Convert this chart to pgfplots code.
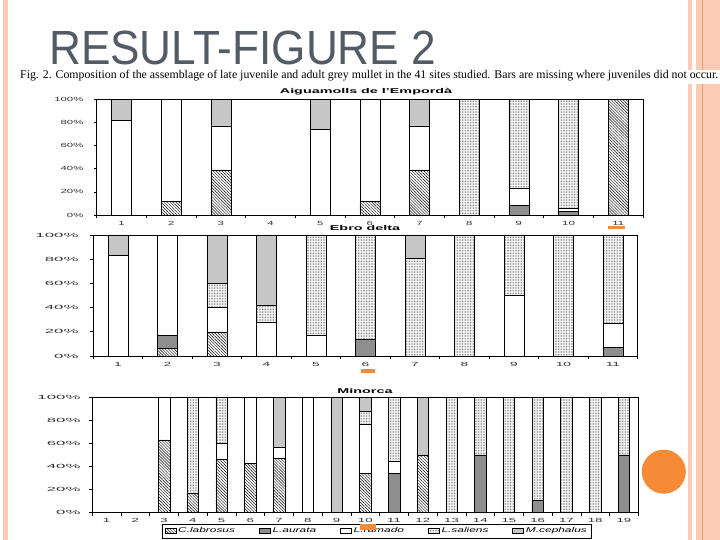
\documentclass[border=0pt]{standalone}
\usepackage{fontspec}
\setmainfont{Liberation Sans}
\newfontfamily\captionserif{Liberation Serif}
\usepackage{pgfplots}
\pgfplotsset{compat=1.18}
\usepackage{pgfplotstable}
\usetikzlibrary{patterns.meta}

\definecolor{pinkband}{HTML}{FBCBB6}
\definecolor{orangeline}{HTML}{F0A070}
\definecolor{orangedot}{HTML}{F68B37}
\definecolor{titlegray}{HTML}{535C66}
\definecolor{aurata}{HTML}{8E8E8E}
\definecolor{cephalus}{HTML}{C6C6C6}

\newcommand{\sx}[2][2.05]{\scalebox{#1}[1]{#2}}

% share of each species per site (%): C. labrosus, L. aurata, L. ramada, L. saliens, M. cephalus
\pgfplotstableread{
site lab aur ram sal cep
1   0  0 82   0 18
2  12  0 88   0  0
3  39  0 38   0 23
4   0  0  0   0  0
5   0  0 74   0 26
6  12  0 88   0  0
7  39  0 38   0 23
8   0  0  0 100  0
9   0  8 15  77  0
10  0  3  3  94  0
11 100 0  0   0  0
}\aiguamolls

\pgfplotstableread{
site lab aur ram sal cep
1   0  0 83   0 17
2   6 11 83   0  0
3  20  0 20  20 40
4   0  0 28  14 58
5   0  0 17  83  0
6   0 14  0  86  0
7   0  0  0  81 19
8   0  0  0 100  0
9   0  0 50  50  0
10  0  0  0 100  0
11  0  7 20  73  0
}\ebro

\pgfplotstableread{
site lab aur ram sal cep
1   0  0   0   0   0
2   0  0   0   0   0
3  63  0  37   0   0
4  17  0   0  83   0
5  46  0  14  40   0
6  43  0  57   0   0
7  47  0  10   0  43
8   0  0 100   0   0
9   0  0   0   0 100
10 34  0  43  11  12
11  0 34  11  55   0
12 50  0   0   0  50
13  0  0   0 100   0
14  0 50   0  50   0
15  0  0   0 100   0
16  0 11   0  89   0
17  0  0   0 100   0
18  0  0   0 100   0
19  0 50   0  50   0
}\minorca

\pgfplotsset{
  labro/.style={draw=black, line width=0.5pt, pattern={Lines[angle=-45,distance=2.1pt,line width=0.45pt]}, pattern color=black},
  aura/.style={draw=black, line width=0.5pt, fill=aurata},
  rama/.style={draw=black, line width=0.5pt, fill=white},
  sali/.style={draw=black, line width=0.5pt, pattern={Dots[distance=1.6pt,radius=0.45pt]}, pattern color=black!65},
  ceph/.style={draw=black, line width=0.5pt, fill=cephalus},
  % #1 #2: horizontal stretch of y and x tick labels, #3 #4: their shifts
  site chart/.style n args={4}{
    scale only axis, anchor=south west,
    ybar stacked, bar width=0.4,
    ymin=0, ymax=100, ytick={0,20,...,100}, minor ytick={0,20,...,100},
    /pgf/number format/assume math mode=true,
    yticklabel={\sx[#1]{\pgfmathprintnumber{\tick}\%}},
    xticklabel={\sx[#2]{\pgfmathprintnumber{\tick}}},
    tick align=outside, major tick length=0pt, minor tick length=3pt,
    xtick pos=lower, ytick pos=left,
    axis line style={line width=0.7pt},
    every tick/.style={black, line width=0.6pt},
    tick label style={font=\fontsize{6}{6}\selectfont, text=black!80},
    yticklabel style={xshift=#3},
    xticklabel style={yshift=#4},
  },
}

\begin{document}
\begin{tikzpicture}
\fill[white] (0,0) rectangle (720pt,540pt);
% slide decoration
\fill[pinkband] (3pt,0) rectangle (8pt,540pt);
\fill[pinkband] (687.7pt,0) rectangle (691.7pt,540pt);
\fill[pinkband] (695.7pt,0) rectangle (720pt,540pt);
\fill[orangeline] (701.7pt,0) rectangle (703.3pt,540pt);

\fill[white] (12pt,456pt) rectangle (720pt,470pt);
\node[anchor=base west, inner sep=0, text depth=0pt, text=titlegray, font=\fontsize{48}{48}\selectfont, xscale=0.92] at (49pt,475pt) {RESULT-FIGURE 2};
\node[anchor=base west, inner sep=0] at (20pt,461pt) {\resizebox{698pt}{!}{\captionserif\fontsize{11}{13}\selectfont Fig. 2. Composition of the assemblage of late juvenile and adult grey mullet in the 41 sites studied. Bars are missing where juveniles did not occur.}};

% Aiguamolls de l'Emporda
\begin{axis}[site chart={1.9}{1.9}{-9.7pt}{-3pt}, at={(96.7pt,325pt)}, width=546.3pt, height=115.7pt,
  xmin=0.5, xmax=11.5, xtick={1,...,11}, minor xtick={0.5,1.5,...,11.5}]
\addplot[labro] table[x=site, y=lab] {\aiguamolls};
\addplot[aura] table[x=site, y=aur] {\aiguamolls};
\addplot[rama] table[x=site, y=ram] {\aiguamolls};
\addplot[sali] table[x=site, y=sal] {\aiguamolls};
\addplot[ceph] table[x=site, y=cep] {\aiguamolls};
\end{axis}

% Ebro delta
\begin{axis}[site chart={2.8}{2.3}{-11.3pt}{-3pt}, at={(93.3pt,184pt)}, width=544.4pt, height=121pt,
  xmin=0.5, xmax=11.5, xtick={1,...,11}, minor xtick={0.5,1.5,...,11.5}]
\addplot[labro] table[x=site, y=lab] {\ebro};
\addplot[aura] table[x=site, y=aur] {\ebro};
\addplot[rama] table[x=site, y=ram] {\ebro};
\addplot[sali] table[x=site, y=sal] {\ebro};
\addplot[ceph] table[x=site, y=cep] {\ebro};
\end{axis}

% Minorca
\begin{axis}[site chart={2.8}{2.2}{-8.3pt}{-2pt}, at={(92.3pt,27.3pt)}, width=546pt, height=115.4pt,
  xmin=0.5, xmax=19.5, xtick={1,...,19}, minor xtick={0.5,1.5,...,19.5},
  legend columns=5,
  legend style={at={(0.521,-0.098)}, anchor=north, draw=black, line width=0.6pt,
    font=\fontsize{7}{8}\selectfont\itshape, inner xsep=2pt, inner ysep=1.5pt,
    /tikz/every even column/.append style={column sep=22pt}},
  legend image code/.code={\draw[#1] (0pt,-2.5pt) rectangle (11pt,2.5pt);}]
\addplot[labro] table[x=site, y=lab] {\minorca};
\addplot[aura] table[x=site, y=aur] {\minorca};
\addplot[rama] table[x=site, y=ram] {\minorca};
\addplot[sali] table[x=site, y=sal] {\minorca};
\addplot[ceph] table[x=site, y=cep] {\minorca};
\legend{\sx[1.7]{C.labrosus}, \sx[1.7]{L.aurata}, \sx[1.7]{L.ramado}, \sx[1.7]{L.saliens}, \sx[1.7]{M.cephalus}}
\end{axis}

% panel titles
\node[font=\bfseries\fontsize{7}{7}\selectfont] at (366pt,448.5pt) {\sx{Aiguamolls de l'Empordà}};
\node[font=\bfseries\fontsize{7}{7}\selectfont] at (365pt,311.5pt) {\sx{Ebro delta}};
\node[font=\bfseries\fontsize{7}{7}\selectfont] at (365pt,149pt) {\sx{Minorca}};

% orange marks of the slide template
\fill[orangedot] (608pt,310.5pt) rectangle (625pt,313.5pt);
\fill[orangedot] (361pt,167pt) rectangle (375pt,171pt);
\fill[orangedot] (360pt,10pt) rectangle (376pt,16pt);
\fill[orangedot] (663.8pt,68.3pt) circle (22pt);
\end{tikzpicture}
\end{document}
